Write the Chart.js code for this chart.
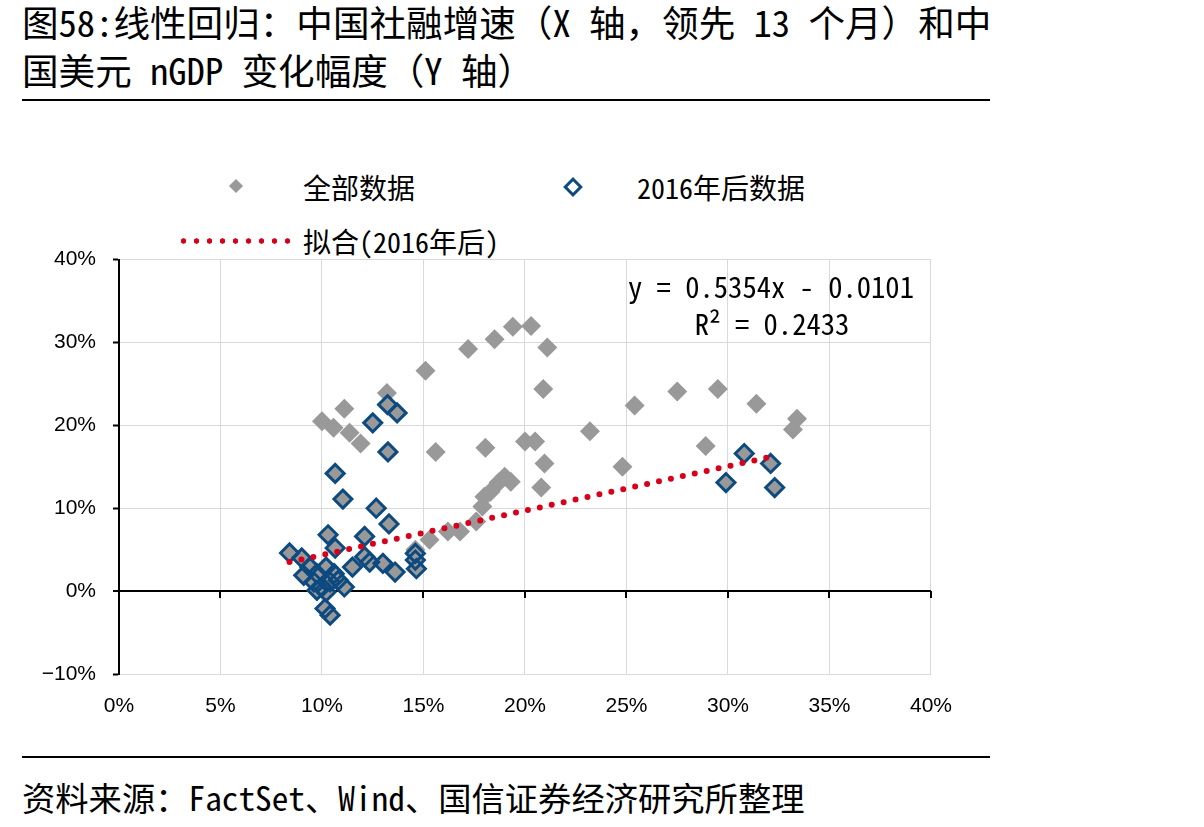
<!DOCTYPE html>
<html>
<head>
<meta charset="utf-8">
<script src="https://cdn.jsdelivr.net/npm/chart.js@4.4.1/dist/chart.umd.min.js"></script>
<style>
  html, body { margin: 0; padding: 0; background: #fff; }
  body { width: 1204px; height: 827px; position: relative; overflow: hidden;
         font-family: "Noto Sans Mono CJK SC", "Noto Sans CJK SC", sans-serif; color: #000; }
  .title { position: absolute; left: 22px; top: -2px; font-size: 36.6px; line-height: 48px; white-space: nowrap; }
  .rule { position: absolute; left: 22px; width: 968px; height: 2px; background: #000; }
  .source { position: absolute; left: 22px; top: 776px; font-size: 33.3px; line-height: 42px; white-space: nowrap; }
  .leg { position: absolute; font-size: 28px; line-height: 34px; white-space: nowrap; }
  .mk-gray { position: absolute; width: 10px; height: 10px; background: #999; transform: rotate(45deg); }
  .mk-blue { position: absolute; width: 8px; height: 8px; border: 3px solid #0d4a80; transform: rotate(45deg); }
  .mk-fit { position: absolute; height: 6px; width: 117px;
            background: radial-gradient(circle, #d9001b 2.4px, transparent 3px) 0 0 / 13px 6px repeat-x; }
  .eq { position: absolute; font-size: 28.6px; line-height: 37px; white-space: nowrap; text-align: center; width: 340px; }
  #chart { position: absolute; left: 0; top: 230px; }
</style>
</head>
<body>
<div class="title">图58:线性回归：中国社融增速（X 轴，领先 13 个月）和中<br>国美元 nGDP 变化幅度（Y 轴）</div>
<div class="rule" style="top:99px"></div>

<div class="mk-gray" style="left:231px; top:181px"></div>
<div class="leg" style="left:303px; top:170px">全部数据</div>
<div class="mk-blue" style="left:566px; top:180px"></div>
<div class="leg" style="left:637px; top:170px">2016年后数据</div>
<div class="mk-fit" style="left:177px; top:238px"></div>
<div class="leg" style="left:303px; top:224px">拟合(2016年后)</div>

<canvas id="chart" width="972" height="510"></canvas>

<div class="eq" style="left:601px; top:267px">y = 0.5354x - 0.0101</div>
<div class="eq" style="left:602px; top:304px">R² = 0.2433</div>

<div class="rule" style="top:756px"></div>
<div class="source">资料来源：FactSet、Wind、国信证券经济研究所整理</div>

<script>
// 社融增速（X, %）与美元 nGDP 变化幅度（Y, %）
// 2016 年以前的点
const earlyX = [15.1, 17.2, 18.5, 19.4, 20.3, 21.1, 20.9, 15.6, 18.05, 20.0, 20.5, 20.96, 20.8,
                19.0, 19.3, 18.7, 18.3, 18.0, 17.9, 17.6, 16.8, 16.2, 15.3, 14.6,
                23.2, 25.4, 27.5, 29.5, 31.4, 33.4, 33.2, 24.8, 28.9,
                13.2, 11.1, 10.0, 10.57, 11.36, 11.9];
const earlyY = [26.6, 29.2, 30.4, 31.9, 32.0, 29.4, 24.4, 16.8, 17.3, 18.05, 18.05, 15.4, 12.5,
                13.8, 13.2, 13.1, 12.0, 11.4, 10.2, 8.4, 7.2, 7.2, 6.2, 5.0,
                19.3, 22.4, 24.1, 24.4, 22.6, 20.8, 19.5, 15.0, 17.5,
                23.9, 22.0, 20.5, 19.7, 19.1, 17.8];

// 2016 年以后的点
const lateX = [8.4, 9.0, 9.1, 9.4, 9.75, 9.6, 9.75, 10.0, 10.2, 10.4, 10.2, 10.6, 10.8, 11.1,
               10.15, 10.4, 10.3, 10.65, 11.5, 12.1, 12.1, 12.35, 13.0, 13.6, 13.3, 12.67,
               14.6, 14.6, 14.65, 11.03, 10.65, 13.25, 12.5, 13.23, 13.7,
               30.8, 32.1, 29.9, 32.3];
const lateY = [4.6, 4.0, 1.9, 2.9, 2.1, 1.1, 0.1, 0.5, -0.1, 1.1, 2.9, 2.1, 1.3, 0.5,
               -2.1, -2.9, 6.8, 5.2, 2.9, 6.6, 4.15, 3.5, 3.35, 2.3, 8.1, 10.0,
               4.55, 3.75, 2.7, 11.1, 14.2, 16.8, 20.3, 22.5, 21.5,
               16.6, 15.4, 13.1, 12.5];

// 拟合线两端（2016 年后）
const fitX = [8.4, 32.3];
const fitY = [3.5, 16.3];

const xTicks = [0, 5, 10, 15, 20, 25, 30, 35, 40];
const yTicks = [-10, 0, 10, 20, 30, 40];

const toPts = (xs, ys) => xs.map((x, i) => ({ x: x, y: ys[i] }));
const allPts = toPts(earlyX, earlyY).concat(toPts(lateX, lateY));

// 在 0 轴上画 X 轴刻度线
const zeroAxisTicks = {
    id: 'zeroAxisTicks',
    beforeDatasetsDraw(chart) {
        const ctx = chart.ctx;
        const xs = chart.scales.x, ys = chart.scales.y;
        const y0 = ys.getPixelForValue(0);
        ctx.save();
        ctx.strokeStyle = '#000';
        ctx.lineWidth = 2;
        xTicks.forEach(v => {
            if (v === 0) return;
            const px = Math.round(xs.getPixelForValue(v));
            ctx.beginPath();
            ctx.moveTo(px, y0);
            ctx.lineTo(px, y0 + 7);
            ctx.stroke();
        });
        ctx.restore();
    }
};

const tickFont = { family: '"Liberation Sans", Arial, sans-serif', size: 21 };

new Chart(document.getElementById('chart').getContext('2d'), {
    type: 'scatter',
    data: {
        datasets: [
            {
                label: '拟合(2016年后)',
                data: toPts(fitX, fitY),
                showLine: true,
                borderColor: '#d9001b',
                borderWidth: 6,
                borderDash: [0, 12.2],
                borderCapStyle: 'round',
                pointRadius: 0
            },
            {
                label: '2016年后数据',
                data: toPts(lateX, lateY),
                pointStyle: 'rectRot',
                pointRadius: 9,
                borderWidth: 3,
                borderColor: '#0d4a80',
                backgroundColor: 'rgba(0,0,0,0)'
            },
            {
                label: '全部数据',
                data: allPts,
                pointStyle: 'rectRot',
                pointRadius: 10,
                borderWidth: 0,
                backgroundColor: '#999999'
            }
        ]
    },
    options: {
        responsive: false,
        animation: false,
        events: [],
        // 顶部留白由 y 轴刻度标签的 padding 决定（约 30）
        layout: { padding: { top: 0, right: 30, left: 0, bottom: 0 } },
        plugins: { legend: { display: false }, tooltip: { enabled: false } },
        scales: {
            x: {
                type: 'linear',
                min: 0, max: 40,
                afterBuildTicks: s => { s.ticks = xTicks.map(v => ({ value: v })); },
                afterFit: s => { s.height = 66; },
                border: { display: false },
                grid: { color: '#d9d9d9', lineWidth: 1, drawTicks: false },
                ticks: { color: '#000', font: tickFont, padding: 20, callback: v => v + '%' }
            },
            y: {
                type: 'linear',
                min: -10, max: 40,
                afterBuildTicks: s => { s.ticks = yTicks.map(v => ({ value: v })); },
                afterFit: s => { s.width = 119; },
                border: { display: true, color: '#000', width: 2 },
                grid: {
                    color: c => (c.tick && c.tick.value === 0) ? '#000' : '#d9d9d9',
                    lineWidth: c => (c.tick && c.tick.value === 0) ? 2 : 1,
                    tickColor: '#000',
                    tickLength: 6,
                    tickWidth: 2
                },
                ticks: {
                    color: '#000', font: tickFont, padding: 17,
                    callback: v => (v < 0 ? '\u2212' + Math.abs(v) : v) + '%'
                }
            }
        }
    },
    plugins: [zeroAxisTicks]
});
</script>
</body>
</html>
